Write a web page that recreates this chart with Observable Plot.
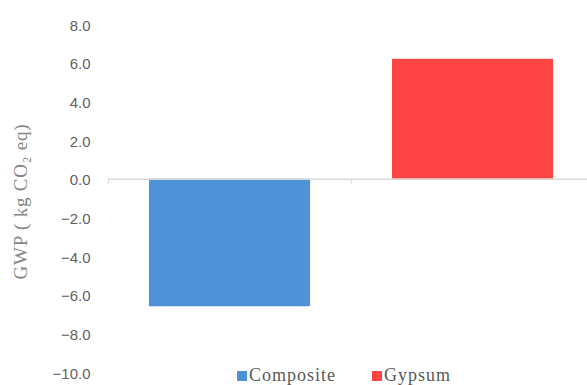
<!DOCTYPE html>
<html>
<head>
<meta charset="utf-8">
<script src="https://cdn.jsdelivr.net/npm/d3@7"></script>
<script src="https://cdn.jsdelivr.net/npm/@observablehq/plot@0.6"></script>
<style>
  html, body { margin: 0; padding: 0; background: #fff; }
  #chart { position: relative; width: 587px; height: 385px; overflow: hidden; }
  #chart svg { display: block; }
  #legend { position: absolute; left: 237px; top: 359px; }
  .gwp-legend-swatch { margin-right: 36px !important; letter-spacing: 1px; }
  .gwp-legend-swatch svg { margin-right: 2px !important; }
  .gwp-title { letter-spacing: 0.8px; }
</style>
</head>
<body>
<div id="chart"></div>
<script>
// Global warming potential per product
const materials = ["Composite", "Gypsum"];
const gwp = [-6.6, 6.2];
const colors = ["#4e92d8", "#ff4444"];
const yTicks = [-10, -8, -6, -4, -2, 0, 2, 4, 6, 8];
const yTitle = "GWP ( kg CO₂ eq)";

const data = materials.map((m, i) => ({material: m, index: i, gwp: gwp[i]}));
const barPad = 0.1685; // share of each category slot left empty on either side

const plot = Plot.plot({
  width: 587,
  height: 385,
  marginLeft: 108,
  marginRight: 0,
  marginTop: 24,
  marginBottom: 13,
  style: {background: "#fff"},
  x: {domain: [0, materials.length], range: [108, 594], axis: null},
  y: {domain: [-10, 8], axis: null},
  color: {domain: materials, range: colors},
  marks: [
    Plot.rectY(data, {
      x1: d => d.index + barPad,
      x2: d => d.index + 1 - barPad,
      y: "gwp",
      fill: "material"
    }),
    Plot.ruleY([0], {stroke: "#d9d9d9", strokeWidth: 1.5}),
    Plot.ruleX(d3.range(materials.length + 1), {y1: 0, y2: -0.25, stroke: "#d9d9d9", strokeWidth: 1.2}),
    Plot.axisY({
      ticks: yTicks,
      tickSize: 0,
      tickPadding: 18,
      tickFormat: d3.format(".1f"),
      fontSize: 15,
      fontFamily: "Liberation Sans, Arial, sans-serif",
      fill: "#5f5f5f",
      dy: 1.5,
      label: null
    }),
    Plot.text([yTitle], {
      frameAnchor: "left",
      textAnchor: "middle",
      rotate: -90,
      dx: -88,
      dy: 3,
      fontSize: 19,
      fontFamily: "Liberation Serif, Times New Roman, serif",
      fill: "#858585",
      text: d => d
    })
  ]
});

// widen the rotated axis title slightly
d3.select(plot).selectAll("text")
  .filter(function() { return this.textContent === yTitle; })
  .classed("gwp-title", true);

const legend = Plot.legend({
  color: {domain: materials, range: colors},
  swatchSize: 10,
  className: "gwp-legend",
  style: {fontFamily: "Liberation Serif, Times New Roman, serif", fontSize: "18px", color: "#595959", margin: 0}
});
legend.id = "legend";

const chart = document.getElementById("chart");
chart.appendChild(plot);
chart.appendChild(legend);
</script>
</body>
</html>
